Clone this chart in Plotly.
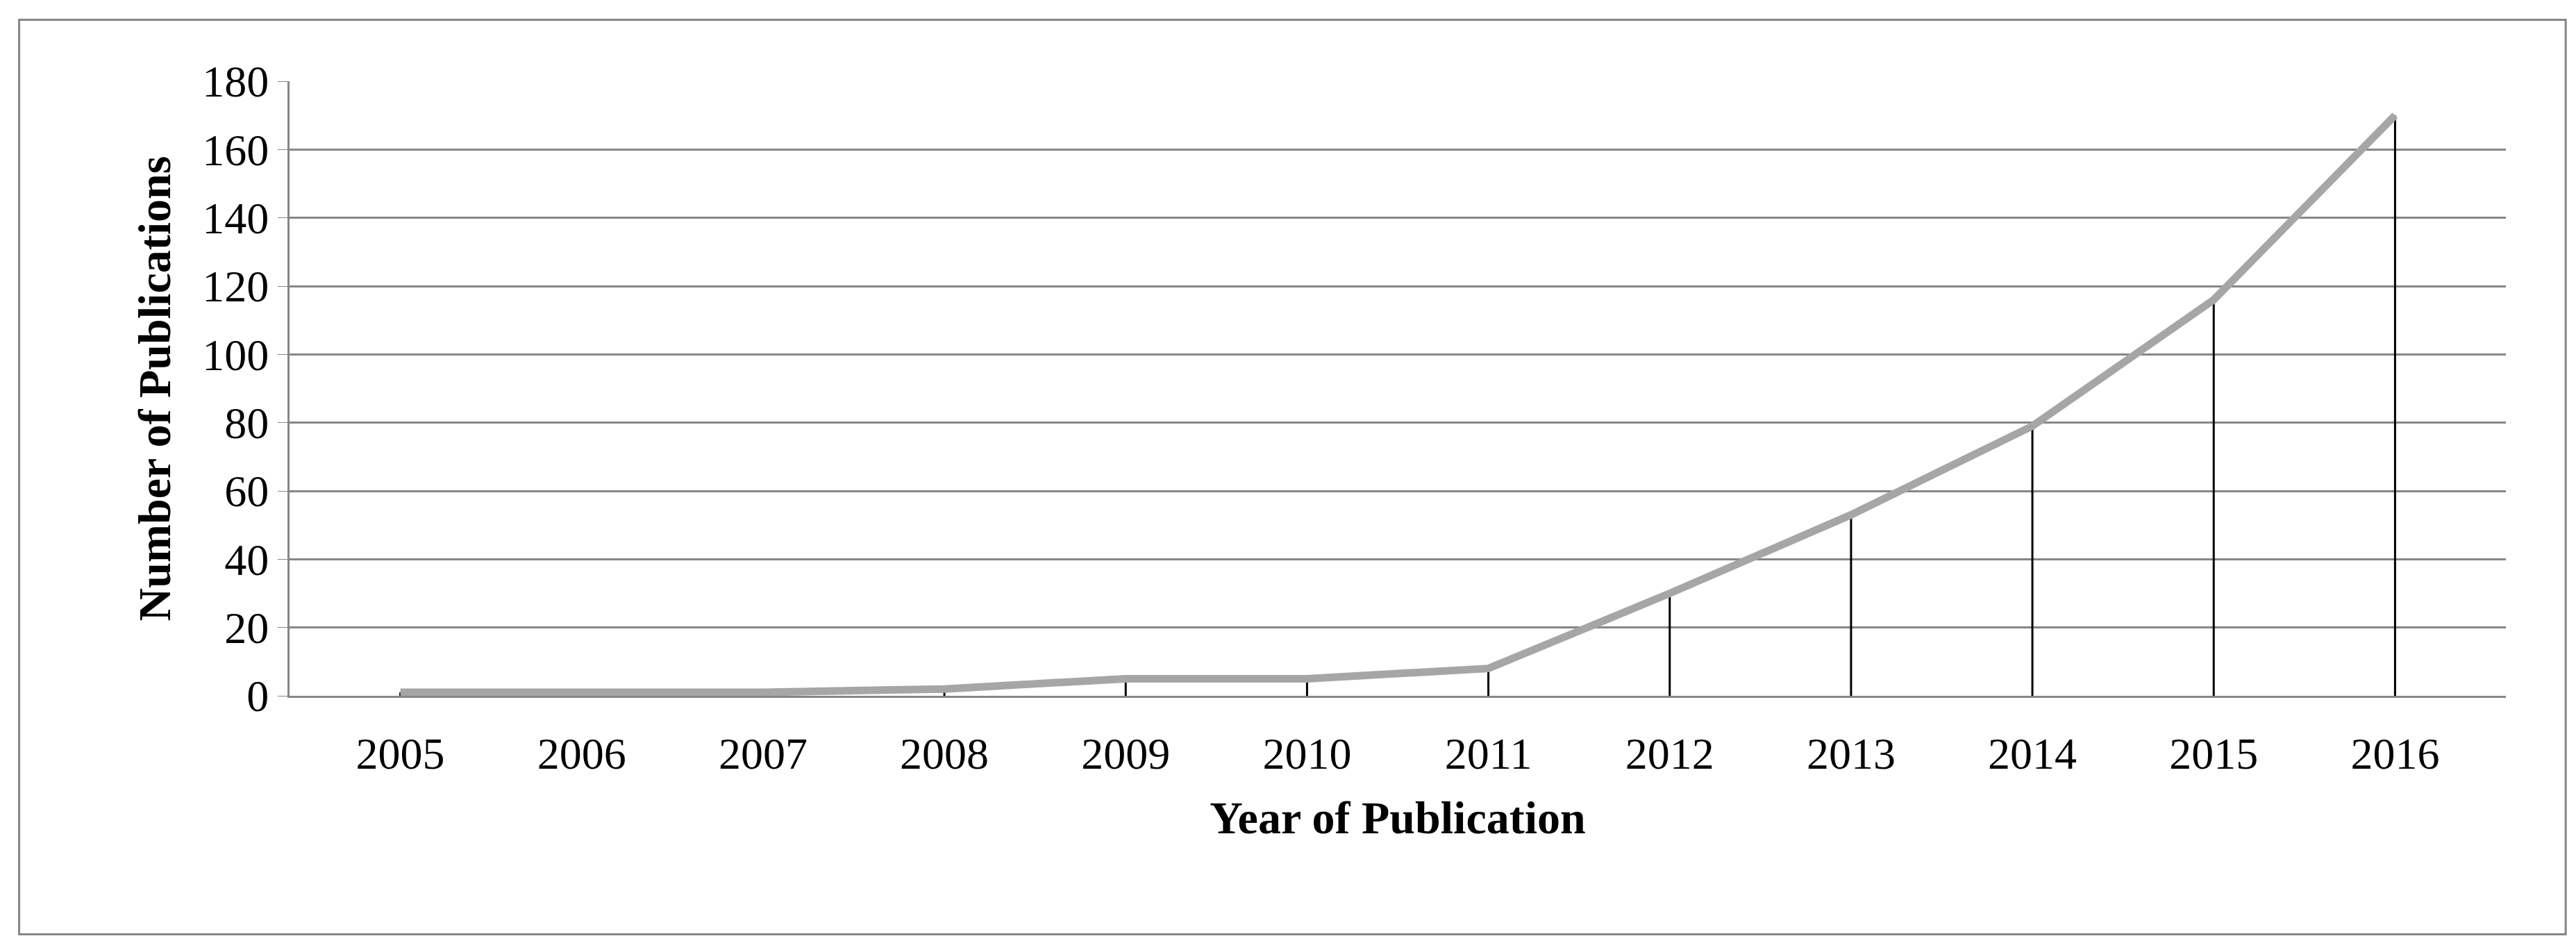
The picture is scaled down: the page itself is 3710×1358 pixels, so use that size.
import plotly.graph_objects as go

years = ["2005","2006","2007","2008","2009","2010","2011","2012","2013","2014","2015","2016"]
pubs = [1, 1, 1, 2, 5, 5, 8, 30, 53, 79, 116, 170]
yticks = list(range(0, 181, 20))

fig = go.Figure()
fig.add_trace(go.Scatter(
    x=years, y=pubs, mode="lines",
    line=dict(color="#A6A6A6", width=11),
    error_y=dict(type="data", symmetric=False, array=[0]*len(pubs), arrayminus=pubs,
                 color="black", thickness=3, width=0),
))
fig.update_layout(
    width=3710, height=1358, paper_bgcolor="white", plot_bgcolor="white",
    margin=dict(l=409, r=109, t=109, b=364),
    showlegend=False,
    font=dict(family="Liberation Serif", color="black", size=64),
    xaxis=dict(type="category", showgrid=False, showline=True, linecolor="#868686", linewidth=3,
               ticks="outside", ticklen=25, tickcolor="rgba(0,0,0,0)",
               title=dict(text="<b>Year of Publication</b>", font=dict(size=66), standoff=35)),
    yaxis=dict(range=[0, 180], tickvals=yticks, showgrid=True, gridcolor="#868686", gridwidth=3,
               showline=True, linecolor="#868686", linewidth=3, ticks="outside", tickcolor="#868686", ticklen=14,
               zeroline=False,
               title=dict(text="<b>Number of Publications</b>", font=dict(size=66), standoff=25)),
    shapes=[dict(type="rect", xref="paper", yref="paper", x0=-0.122, x1=1.027, y0=-0.388, y1=1.10,
                 line=dict(color="#868686", width=3))],
)
fig.write_html("out.html")
